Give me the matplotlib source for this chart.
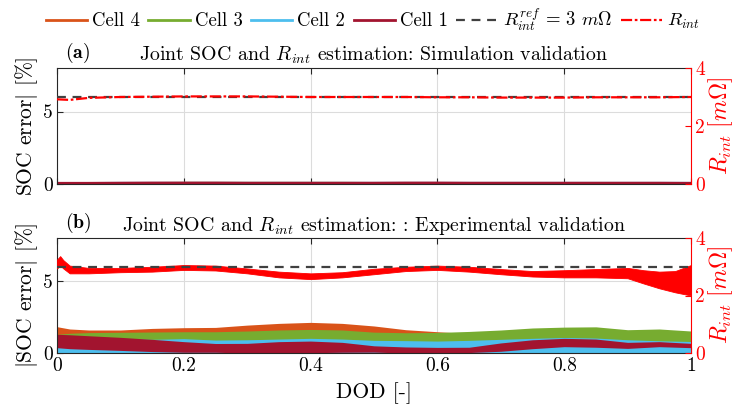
import matplotlib
matplotlib.use("Agg")
import matplotlib.pyplot as plt
import numpy as np

plt.rcParams["font.family"] = ["cmr10", "DejaVu Serif"]
plt.rcParams["mathtext.fontset"] = "cm"
plt.rcParams["axes.formatter.use_mathtext"] = True
plt.rcParams["axes.unicode_minus"] = False

# ---- data -------------------------------------------------------------
dod = [0.0, 0.02, 0.05, 0.10, 0.15, 0.20, 0.25, 0.30, 0.35, 0.40, 0.45,
       0.50, 0.55, 0.60, 0.65, 0.70, 0.75, 0.80, 0.85, 0.90, 0.95, 1.0]

# (a) simulation: cell SOC errors [%] and estimated R_int [mOhm]
sim_cell4 = [0.03, 0.03, 0.03, 0.04, 0.04, 0.04, 0.04, 0.04, 0.04, 0.04, 0.04,
             0.04, 0.04, 0.04, 0.04, 0.04, 0.04, 0.04, 0.04, 0.04, 0.04, 0.04]
sim_cell3 = [0.03, 0.03, 0.04, 0.04, 0.04, 0.05, 0.05, 0.05, 0.05, 0.05, 0.05,
             0.04, 0.04, 0.04, 0.04, 0.04, 0.04, 0.04, 0.04, 0.04, 0.04, 0.04]
sim_cell2 = [0.04, 0.04, 0.04, 0.05, 0.05, 0.05, 0.05, 0.05, 0.05, 0.05, 0.05,
             0.05, 0.05, 0.05, 0.05, 0.05, 0.05, 0.05, 0.05, 0.05, 0.05, 0.05]
sim_cell1 = [0.05, 0.05, 0.05, 0.06, 0.07, 0.07, 0.07, 0.06, 0.06, 0.06, 0.06,
             0.06, 0.07, 0.07, 0.06, 0.06, 0.06, 0.06, 0.06, 0.06, 0.06, 0.05]
sim_rint = [2.92, 2.90, 2.97, 3.00, 3.01, 3.02, 3.02, 3.02, 3.01, 3.00, 3.00,
            3.00, 3.00, 2.99, 2.99, 2.98, 2.98, 2.98, 2.99, 2.99, 2.99, 3.00]

# (b) experiment: envelopes of |SOC error| [%] for each cell
exp_cell4_hi = [1.83, 1.67, 1.60, 1.60, 1.71, 1.76, 1.78, 1.94, 2.06, 2.13, 2.06,
                1.88, 1.62, 1.48, 1.35, 1.30, 1.30, 1.30, 1.30, 1.20, 1.20, 1.10]
exp_cell3_hi = [1.30, 1.37, 1.42, 1.44, 1.46, 1.48, 1.48, 1.53, 1.60, 1.64, 1.60,
                1.45, 1.41, 1.43, 1.50, 1.60, 1.74, 1.80, 1.82, 1.62, 1.67, 1.53]
exp_cell2_hi = [1.00, 1.00, 1.00, 1.00, 0.95, 1.00, 0.90, 0.92, 0.97, 1.02, 0.97,
                0.88, 0.86, 0.83, 0.88, 0.95, 1.02, 1.08, 1.04, 0.92, 0.85, 0.80]
exp_cell1_hi = [1.30, 1.27, 1.20, 1.09, 0.95, 0.79, 0.66, 0.67, 0.79, 0.83, 0.74,
                0.50, 0.42, 0.39, 0.40, 0.70, 0.92, 1.02, 0.97, 0.74, 0.79, 0.67]
exp_cell1_lo = [0.37, 0.30, 0.25, 0.18, 0.10, 0.05, 0.05, 0.00, 0.00, 0.02, 0.05,
                0.06, 0.00, 0.00, 0.03, 0.12, 0.30, 0.44, 0.40, 0.32, 0.44, 0.37]

# (b) experiment: envelope of estimated R_int [mOhm]
rint_dod = [0.0, 0.005, 0.01, 0.02, 0.05, 0.10, 0.15, 0.20, 0.25, 0.30, 0.35,
            0.40, 0.45, 0.50, 0.55, 0.60, 0.65, 0.70, 0.75, 0.80, 0.85, 0.90,
            0.925, 0.95, 0.975, 1.0]
rint_hi = [3.25, 3.37, 3.23, 3.04, 2.96, 2.96, 3.00, 3.06, 3.04, 2.94, 2.83,
           2.77, 2.81, 2.93, 3.00, 3.04, 3.00, 2.92, 2.85, 2.88, 2.92, 2.96,
           2.88, 2.83, 2.85, 3.06]
rint_lo = [2.94, 3.05, 2.94, 2.77, 2.77, 2.81, 2.83, 2.89, 2.87, 2.77, 2.63,
           2.57, 2.63, 2.74, 2.85, 2.89, 2.83, 2.74, 2.66, 2.63, 2.63, 2.60,
           2.42, 2.25, 2.11, 2.00]

r_ref = 3.0
xticks = [0, 0.2, 0.4, 0.6, 0.8, 1.0]
xtick_labels = ["0", "0.2", "0.4", "0.6", "0.8", "1"]

cell_names = ["Cell 4", "Cell 3", "Cell 2", "Cell 1"]
cell_colors = ["#D95319", "#77AC30", "#4DBEEE", "#A2142F"]

# ---- figure -----------------------------------------------------------
fig = plt.figure(figsize=(7.34, 4.16), dpi=100)
ax_a = fig.add_axes([57 / 734, 1 - 184 / 416, 634 / 734, 116 / 416])
ax_b = fig.add_axes([57 / 734, 1 - 353 / 416, 634 / 734, 115 / 416])

TICK_FS = 14
LABEL_FS = 15.5
TITLE_FS = 14.3
RINT_DASH = (5, 1.2, 1.2, 1.2)


def style_axes(ax, show_xlabels):
    ax.set_xlim(0, 1)
    ax.set_ylim(0, 8)
    ax.set_xticks(xticks)
    if show_xlabels:
        ax.set_xticklabels(xtick_labels, fontsize=TICK_FS)
    else:
        ax.set_xticklabels([])
    ax.set_yticks([0, 5])
    ax.set_yticklabels(["0", "5"], fontsize=TICK_FS)
    ax.grid(True, color="#dcdcdc", linewidth=0.8)
    ax.set_axisbelow(True)
    ax.tick_params(direction="in", length=4, top=True, width=0.8,
                   color="#262626", pad=3)
    for s in ["left", "bottom", "top"]:
        ax.spines[s].set_color("#262626")
        ax.spines[s].set_linewidth(0.8)
    ax.spines["right"].set_visible(False)


def style_right(axr):
    axr.set_ylim(0, 4)
    axr.set_yticks([0, 2, 4])
    axr.set_yticklabels(["0", "2", "4"], fontsize=TICK_FS, color="red")
    axr.tick_params(direction="in", length=4, colors="red", width=0.8, pad=3)
    for s in ["left", "bottom", "top"]:
        axr.spines[s].set_visible(False)
    axr.spines["right"].set_color("red")
    axr.spines["right"].set_linewidth(0.8)
    axr.set_ylabel(r"$R_{int}\ [m\Omega]$", color="red", fontsize=17,
                   labelpad=1)


# (a) simulation validation
style_axes(ax_a, False)
handles = []
for vals, name, col in zip([sim_cell4, sim_cell3, sim_cell2, sim_cell1],
                           cell_names, cell_colors):
    h, = ax_a.plot(dod, vals, color=col, linewidth=2.0, label=name)
    handles.append(h)
ax_a.set_ylabel(r"SOC error$|$ [%]", fontsize=LABEL_FS, labelpad=2)
ax_ar = ax_a.twinx()
style_right(ax_ar)
h_ref = ax_ar.axhline(r_ref, color="#404040", linestyle="--", linewidth=1.6,
                      dashes=(4, 3))
h_rint, = ax_ar.plot(dod, sim_rint, color="red", linewidth=1.6,
                     dashes=RINT_DASH)
ax_a.set_title(r"Joint SOC and $R_{int}$ estimation: Simulation validation",
               fontsize=TITLE_FS, pad=5)
ax_a.text(0.012, 1.025, r"$\mathbf{(a)}$", transform=ax_a.transAxes,
          fontsize=TITLE_FS, ha="left", va="bottom")

# (b) experimental validation
style_axes(ax_b, True)
ax_b.fill_between(dod, 0, exp_cell4_hi, color=cell_colors[0], linewidth=0)
ax_b.fill_between(dod, 0, exp_cell3_hi, color=cell_colors[1], linewidth=0)
ax_b.fill_between(dod, 0, exp_cell2_hi, color=cell_colors[2], linewidth=0)
ax_b.fill_between(dod, exp_cell1_lo, exp_cell1_hi, color=cell_colors[3],
                  linewidth=0)
ax_b.set_ylabel(r"$|$SOC error$|$ [%]", fontsize=LABEL_FS, labelpad=2)
ax_b.set_xlabel("DOD [-]", fontsize=LABEL_FS, labelpad=5)
ax_br = ax_b.twinx()
style_right(ax_br)
ax_br.axhline(r_ref, color="#404040", linestyle="--", linewidth=1.6,
              dashes=(4, 3))
ax_br.fill_between(rint_dod, rint_lo, rint_hi, color="red", linewidth=0.6,
                   edgecolor="red")
ax_b.set_title(r"Joint SOC and $R_{int}$ estimation: : Experimental validation",
               fontsize=TITLE_FS, pad=5)
ax_b.text(0.012, 1.025, r"$\mathbf{(b)}$", transform=ax_b.transAxes,
          fontsize=TITLE_FS, ha="left", va="bottom")

fig.legend(handles + [h_ref, h_rint],
           cell_names + [r"$R_{int}^{ref}$ = 3 $m\Omega$", r"$R_{int}$"],
           loc="upper center", bbox_to_anchor=(0.508, 1.025), ncol=6,
           frameon=False, fontsize=13.5, handlelength=2.2,
           handletextpad=0.27, columnspacing=0.45)

fig.savefig("out.png", dpi=100)
